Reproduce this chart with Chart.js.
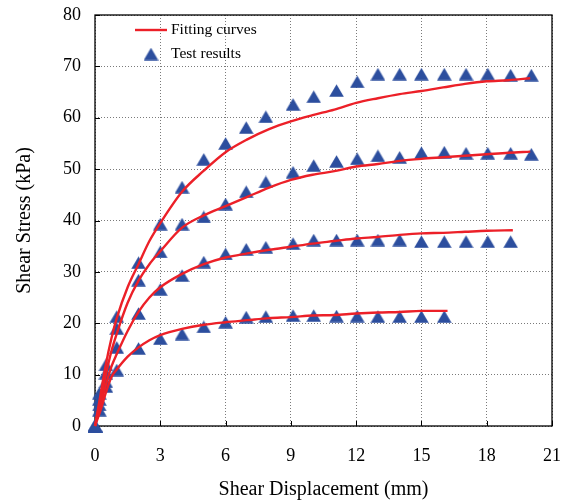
<!DOCTYPE html>
<html>
<head>
<meta charset="utf-8">
<script src="https://cdn.jsdelivr.net/npm/chart.js@4"></script>
<style>
  html, body { margin: 0; padding: 0; background: #fff; }
  #wrap { width: 571px; height: 502px; position: relative; }
</style>
</head>
<body>
<div id="wrap"><canvas id="c" width="571" height="502"></canvas></div>
<script>
// ---- Data ----
const xTicks = [0, 3, 6, 9, 12, 15, 18, 21];
const yTicks = [0, 10, 20, 30, 40, 50, 60, 70, 80];

// Test results (triangles)
const testX = [0, 0.2, 0.5, 1, 2, 3, 4, 5, 6, 6.95, 7.85, 9.1, 10.05, 11.1, 12.05, 13.0, 14.0, 15.0, 16.05, 17.05, 18.05, 19.1, 20.05];
const test4 = [0, 6.4, 11.9, 21.3, 31.8, 39.3, 46.5, 51.9, 55.0, 58.1, 60.2, 62.6, 64.1, 65.3, 67.0, 68.5, 68.5, 68.5, 68.5, 68.5, 68.5, 68.3, 68.3];
const test3 = [0, 5.2, 10.3, 19.0, 28.4, 33.9, 39.3, 40.7, 43.2, 45.6, 47.5, 49.4, 50.7, 51.5, 52.0, 52.6, 52.3, 53.2, 53.3, 53.1, 53.1, 53.1, 52.9];
const test2 = [0, 4.1, 8.6, 15.3, 21.9, 26.6, 29.3, 31.9, 33.5, 34.4, 34.8, 35.5, 36.2, 36.2, 36.2, 36.2, 36.2, 35.9, 35.9, 35.9, 35.9, 35.9];
const test1 = [0, 3.1, 7.7, 10.9, 15.1, 17.0, 17.9, 19.3, 20.2, 21.2, 21.3, 21.5, 21.5, 21.4, 21.4, 21.3, 21.3, 21.3, 21.3];

// Fitting curves
const fitX4 = [0, 0.25, 0.5, 0.75, 1, 1.5, 2, 2.5, 3, 4, 5, 6, 7, 8, 9, 10, 11, 12, 13, 14, 15, 16, 17, 18, 19, 20];
const fit4  = [0, 6, 12, 17, 21, 27, 31.5, 36, 39.5, 45.6, 49.7, 53.3, 55.8, 57.8, 59.3, 60.5, 61.6, 62.9, 63.8, 64.6, 65.2, 65.9, 66.6, 67.1, 67.3, 67.7];
const fitX3 = [0, 0.25, 0.5, 0.75, 1, 1.5, 2, 2.5, 3, 4, 5, 6, 7, 8, 9, 10, 11, 12, 13, 14, 15, 16, 17, 18, 19, 20];
const fit3  = [0, 5, 10, 14.5, 18, 24, 28.3, 31.5, 34, 38.6, 41, 42.8, 44.6, 46.4, 47.9, 48.9, 49.6, 50.5, 51.0, 51.6, 52.0, 52.3, 52.6, 52.9, 53.2, 53.4];
const fitX2 = [0, 0.25, 0.5, 0.75, 1, 1.5, 2, 2.5, 3, 4, 5, 6, 7, 8, 9, 10, 11, 12, 13, 14, 15, 16, 17, 18, 19.2];
const fit2  = [0, 4, 8, 11.5, 14, 18.5, 22.2, 25, 27, 29.6, 31.5, 32.8, 33.6, 34.3, 34.9, 35.5, 36.0, 36.5, 36.8, 37.2, 37.5, 37.6, 37.8, 38.0, 38.1];
const fitX1 = [0, 0.25, 0.5, 0.75, 1, 1.5, 2, 2.5, 3, 4, 5, 6, 7, 8, 9, 10, 11, 12, 13, 14, 15, 16.2];
const fit1  = [0, 3, 6.5, 9.5, 11, 13.5, 15.3, 16.7, 17.7, 18.9, 19.7, 20.2, 20.6, 21.0, 21.2, 21.5, 21.6, 21.9, 22.1, 22.2, 22.4, 22.4];

const legendFit = 'Fitting curves';
const legendTest = 'Test results';
const xTitle = 'Shear Displacement (mm)';
const yTitle = 'Shear Stress (kPa)';

// ---- Styles ----
const RED = 'rgb(236,32,40)';
const BLUE = 'rgb(44,78,158)';
const FONT = "'Liberation Serif', 'Times New Roman', serif";

// triangle marker centred in its bounding box
const tri = document.createElement('canvas');
tri.width = 15; tri.height = 13;
(function () {
  const t = tri.getContext('2d');
  t.fillStyle = BLUE;
  t.beginPath();
  t.moveTo(7.5, 0.3);
  t.lineTo(14.8, 12.8);
  t.lineTo(0.2, 12.8);
  t.closePath();
  t.fill();
})();

function pts(xs, ys) { return ys.map((y, i) => ({ x: xs[i], y: y })); }

const fitStyle = { showLine: true, borderColor: RED, backgroundColor: RED, borderWidth: 2.4,
  pointRadius: 0, pointHoverRadius: 0, tension: 0.4, cubicInterpolationMode: 'monotone', order: 0, clip: false };
const testStyle = { showLine: false, pointStyle: tri, pointRadius: 8, backgroundColor: BLUE,
  borderColor: BLUE, order: 1, clip: false };

const datasets = [
  Object.assign({ label: legendFit, data: pts(fitX4, fit4) }, fitStyle),
  Object.assign({ label: legendFit + ' 3', data: pts(fitX3, fit3) }, fitStyle),
  Object.assign({ label: legendFit + ' 2', data: pts(fitX2, fit2) }, fitStyle),
  Object.assign({ label: legendFit + ' 1', data: pts(fitX1, fit1) }, fitStyle),
  Object.assign({ label: legendTest, data: pts(testX, test4) }, testStyle),
  Object.assign({ label: legendTest + ' 3', data: pts(testX, test3) }, testStyle),
  Object.assign({ label: legendTest + ' 2', data: pts(testX, test2) }, testStyle),
  Object.assign({ label: legendTest + ' 1', data: pts(testX, test1) }, testStyle),
];

const framePlugin = {
  id: 'frame',
  beforeDatasetsDraw(chart) {
    const { ctx, chartArea: a, scales } = chart;
    ctx.save();
    ctx.strokeStyle = '#000';
    ctx.lineWidth = 1;
    // inward ticks on bottom and left axes
    ctx.beginPath();
    xTicks.forEach(v => {
      const px = Math.round(scales.x.getPixelForValue(v)) + 0.5;
      ctx.moveTo(px, a.bottom); ctx.lineTo(px, a.bottom - 5);
    });
    yTicks.forEach(v => {
      const py = Math.round(scales.y.getPixelForValue(v)) + 0.5;
      ctx.moveTo(a.left, py); ctx.lineTo(a.left + 5, py);
    });
    ctx.stroke();
    ctx.lineWidth = 1.3;
    ctx.strokeRect(a.left, a.top, a.right - a.left, a.bottom - a.top);
    ctx.restore();
  },
  afterDraw(chart) {
    const { ctx, chartArea: a } = chart;
    ctx.save();
    const lx = a.left + 40, ly1 = a.top + 15, ly2 = a.top + 39;
    ctx.strokeStyle = RED; ctx.lineWidth = 2.4;
    ctx.beginPath(); ctx.moveTo(lx, ly1); ctx.lineTo(lx + 32, ly1); ctx.stroke();
    ctx.drawImage(tri, lx + 16 - 7.5, ly2 - 6.5);
    ctx.fillStyle = '#000';
    ctx.font = '15.5px ' + FONT;
    ctx.textBaseline = 'middle';
    ctx.fillText(legendFit, lx + 36, ly1);
    ctx.fillText(legendTest, lx + 36, ly2);
    ctx.restore();
  }
};

new Chart(document.getElementById('c'), {
  type: 'scatter',
  data: { datasets },
  options: {
    responsive: false,
    animation: false,
    events: [],
    layout: { padding: { left: 0, right: 19, top: 15, bottom: 0 } },
    plugins: { legend: { display: false }, tooltip: { enabled: false } },
    scales: {
      x: {
        type: 'linear', min: 0, max: 21,
        afterBuildTicks: s => { s.ticks = xTicks.map(v => ({ value: v })); },
        afterFit: s => { s.height = 76; s.paddingLeft = 0; s.paddingRight = 0; },
        ticks: { color: '#000', font: { family: FONT, size: 18 }, padding: 19, maxRotation: 0 },
        grid: { color: '#7a7a7a', lineWidth: 1, drawTicks: false, borderDash: [1, 2] },
        border: { display: false, dash: [1, 2] },
        title: { display: true, text: xTitle, color: '#000', font: { family: FONT, size: 20 }, padding: { top: 0, bottom: 0 } }
      },
      y: {
        type: 'linear', min: 0, max: 80,
        afterBuildTicks: s => { s.ticks = yTicks.map(v => ({ value: v })); },
        afterFit: s => { s.width = 95; s.paddingTop = 0; s.paddingBottom = 0; },
        ticks: { color: '#000', font: { family: FONT, size: 18 }, padding: 14 },
        grid: { color: '#7a7a7a', lineWidth: 1, drawTicks: false, borderDash: [1, 2] },
        border: { display: false, dash: [1, 2] },
        title: { display: true, text: yTitle, color: '#000', font: { family: FONT, size: 20 }, padding: { top: 13, bottom: 0 } }
      }
    }
  },
  plugins: [framePlugin]
});
</script>
</body>
</html>
